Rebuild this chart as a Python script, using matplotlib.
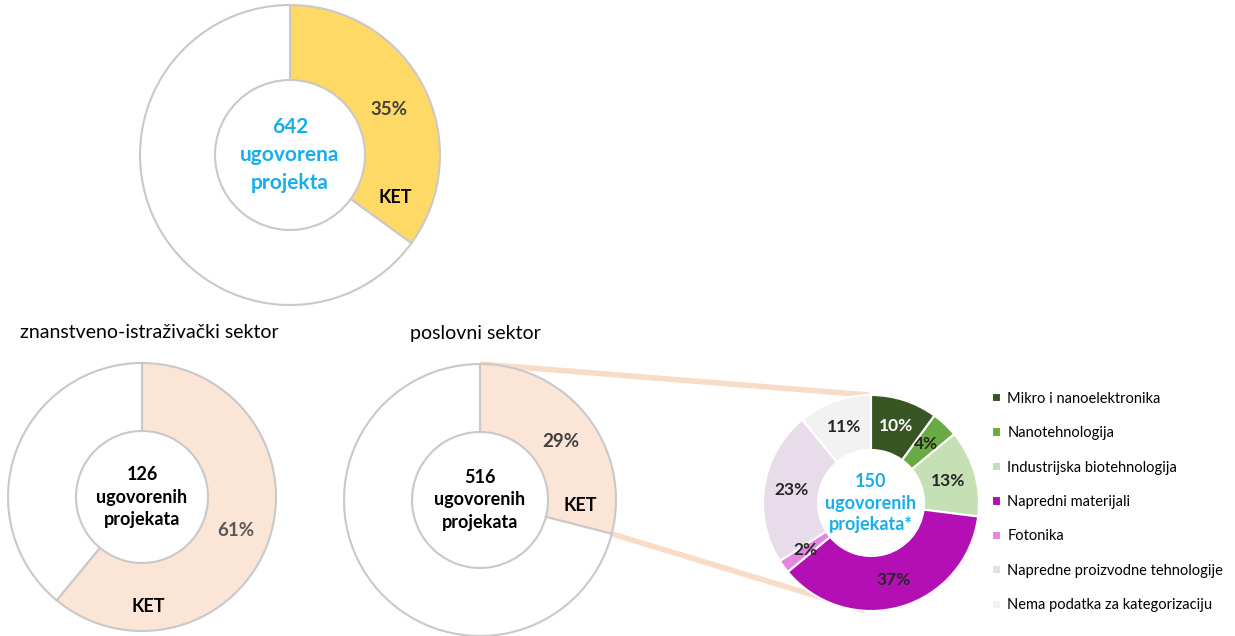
import matplotlib
matplotlib.use("Agg")
import matplotlib.pyplot as plt
import numpy as np

plt.rcParams["font.family"] = ["Lato", "DejaVu Sans"]

# --- data -----------------------------------------------------------------
total_label = "642\nugovorena\nprojekta"
total_ket = 35

sci_title = "znanstveno-istraživački sektor"
sci_label = "126\nugovorenih\nprojekata"
sci_ket = 61

bus_title = "poslovni sektor"
bus_label = "516\nugovorenih\nprojekata"
bus_ket = 29

ket_label = "150\nugovorenih\nprojekata*"
ket_categories = [
    "Mikro i nanoelektronika",
    "Nanotehnologija",
    "Industrijska biotehnologija",
    "Napredni materijali",
    "Fotonika",
    "Napredne proizvodne tehnologije",
    "Nema podatka za kategorizaciju",
]
ket_shares = [10, 4, 13, 37, 2, 23, 11]
ket_colors = ["#375623", "#6AAA45", "#C5E0B4", "#B40FB4", "#E286E2", "#E8DCEA", "#F2F2F2"]
ket_text_colors = ["white", "#262626", "#262626", "#262626", "#262626", "#262626", "#262626"]

W, H = 1235, 636
BLUE = "#19AEEB"
GRAY_EDGE = "#C9C9C9"
PEACH = "#FBE5D6"


def Y(y):
    # pixel row -> data y (axis points up)
    return H - y


def polar(cx, cy, dist, ang):
    a = np.deg2rad(ang)
    return cx + dist * np.cos(a), Y(cy) + dist * np.sin(a)


fig = plt.figure(figsize=(W / 100, H / 100), dpi=100)
ax = fig.add_axes([0, 0, 1, 1])


def ket_donut(cx, cy, R, r, share, color, center_text, center_color, fs, ls,
              pct_at, ket_at, pct_color):
    ax.pie([share, 100 - share], center=(cx, Y(cy)), radius=R, startangle=90,
           counterclock=False, colors=[color, "white"], frame=True,
           wedgeprops=dict(width=R - r, edgecolor=GRAY_EDGE, linewidth=1.5))
    ax.text(cx, Y(cy), center_text, ha="center", va="center", fontsize=fs,
            fontweight="bold", color=center_color, linespacing=ls)
    x, y = polar(cx, cy, *pct_at)
    ax.text(x, y, f"{share}%", ha="center", va="center", fontsize=13.5,
            fontweight="bold", color=pct_color)
    x, y = polar(cx, cy, *ket_at)
    ax.text(x, y, "KET", ha="center", va="center", fontsize=13,
            fontweight="bold", color="black")


# top: all projects
ket_donut(290, 155, 150, 75, total_ket, "#FFD966", total_label, BLUE, 15, 1.5,
          (109, 24.5), (114, -22), "#404040")

# bottom left: science sector
ket_donut(142, 497, 134, 66, sci_ket, PEACH, sci_label, "black", 13, 1.4,
          (99, -19.5), (110, -87), "#595959")

# bottom middle: business sector
bcx, bcy, bR = 480, 500, 136
ket_donut(bcx, bcy, bR, 68, bus_ket, PEACH, bus_label, "black", 13, 1.4,
          (100, 36), (100, -3), "#404040")

ax.text(20, Y(333), sci_title, ha="left", va="center", fontsize=14, color="black")
ax.text(410, Y(333), bus_title, ha="left", va="center", fontsize=14, color="black")

# breakdown of business KET projects
scx, scy, sR, sr = 871, 503, 108, 53

# connectors from the KET wedge edges to the breakdown donut
end_ang = 90 - bus_ket * 3.6
p_top = polar(bcx, bcy, bR, 90)
p_bot = polar(bcx, bcy, bR, end_ang)
q_top = polar(scx, scy, sR, 91)
q_bot = polar(scx, scy, sR, -93)
ax.plot([p_top[0], q_top[0]], [p_top[1], q_top[1]], color="#F9DCC8", lw=4,
        solid_capstyle="butt", zorder=0.5)
ax.plot([p_bot[0], q_bot[0]], [p_bot[1], q_bot[1]], color="#F9DCC8", lw=4,
        solid_capstyle="butt", zorder=0.5)

wedges, _, autotexts = ax.pie(
    ket_shares, center=(scx, Y(scy)), radius=sR, startangle=90, counterclock=False,
    colors=ket_colors, frame=True, autopct="%d%%", pctdistance=(sR + sr) / 2 / sR,
    wedgeprops=dict(width=sR - sr, edgecolor="white", linewidth=1.5),
    textprops=dict(fontsize=12.5, fontweight="bold"))
for t, c in zip(autotexts, ket_text_colors):
    t.set_color(c)
ax.text(scx, Y(scy), ket_label, ha="center", va="center", fontsize=13,
        fontweight="bold", color=BLUE, linespacing=1.3)

ax.legend(wedges, ket_categories, loc="upper left", bbox_to_anchor=(986 / W, 1 - 386 / H),
          frameon=False, fontsize=10.5, handlelength=0.6, handleheight=0.6,
          handletextpad=0.45, labelspacing=1.4, borderaxespad=0)

ax.set_xlim(0, W)
ax.set_ylim(0, H)
ax.set_aspect("equal")
ax.axis("off")

fig.savefig("out.png", dpi=100, facecolor="white")
